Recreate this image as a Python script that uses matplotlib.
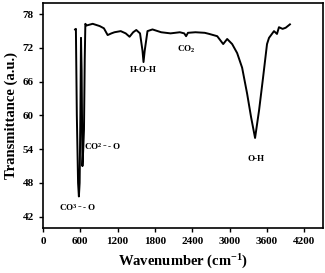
import matplotlib.pyplot as plt

# FTIR spectrum
wavenumber = [517, 530, 545, 565, 578, 590, 602, 612, 622, 635, 648, 660, 672, 682,
              700, 800, 912, 980, 1040, 1100, 1150, 1250, 1330, 1392, 1450, 1500,
              1560, 1600, 1616, 1635, 1680, 1760, 1900, 2050, 2200, 2270, 2300,
              2330, 2450, 2600, 2672, 2800, 2896, 2960, 3040, 3120, 3200, 3280,
              3344, 3408, 3472, 3536, 3600, 3632, 3712, 3760, 3792, 3850, 3900,
              3968]
transmittance = [75.3, 75.4, 60.0, 48.0, 45.6, 48.0, 60.0, 73.8, 68.0, 51.0, 54.0,
                 57.5, 70.0, 76.3, 76.0, 76.3, 75.9, 75.5, 74.3, 74.6, 74.8, 75.0,
                 74.6, 74.0, 74.8, 75.2, 74.6, 71.5, 69.5, 71.5, 75.0, 75.3, 74.8,
                 74.6, 74.8, 74.6, 74.1, 74.7, 74.8, 74.7, 74.5, 74.1, 72.7, 73.6,
                 72.7, 71.1, 68.5, 63.9, 59.7, 56.0, 60.9, 66.7, 72.7, 73.8, 75.0,
                 74.5, 75.7, 75.4, 75.6, 76.2]

labels = ['CO$^{3-}$- O', 'CO$^{2-}$- O', 'H-O-H', 'CO$_2$', 'O-H']
label_x = [560, 950, 1610, 2300, 3420]
label_y = [43.6, 54.4, 68.0, 71.8, 52.2]

plt.rcParams['font.family'] = 'Liberation Serif'
plt.rcParams['font.weight'] = 'bold'
plt.rcParams['mathtext.fontset'] = 'custom'
plt.rcParams['mathtext.rm'] = 'Liberation Serif:bold'
plt.rcParams['mathtext.default'] = 'rm'

fig = plt.figure(figsize=(3.25, 2.73), dpi=100)
ax = fig.add_axes([0.132, 0.165, 0.862, 0.824])
ax.plot(wavenumber, transmittance, color='black', lw=1.4)

for t, x, y in zip(labels, label_x, label_y):
    ax.text(x, y, t, fontsize=6.5, fontweight='bold', ha='center', va='center')

ax.set_xlim(0, 4500)
ax.set_ylim(40, 80)
ax.set_xticks([0, 600, 1200, 1800, 2400, 3000, 3600, 4200])
ax.set_yticks([42, 48, 54, 60, 66, 72, 78])
ax.tick_params(labelsize=8, length=3, width=1)
for s in ax.spines.values():
    s.set_linewidth(1.2)
ax.set_xlabel('Wavenumber (cm$^{-1}$)', fontsize=10.5, fontweight='bold', labelpad=5)
ax.set_ylabel('Transmittance (a.u.)', fontsize=10.5, fontweight='bold', labelpad=3)

fig.savefig('out.png', dpi=100)
